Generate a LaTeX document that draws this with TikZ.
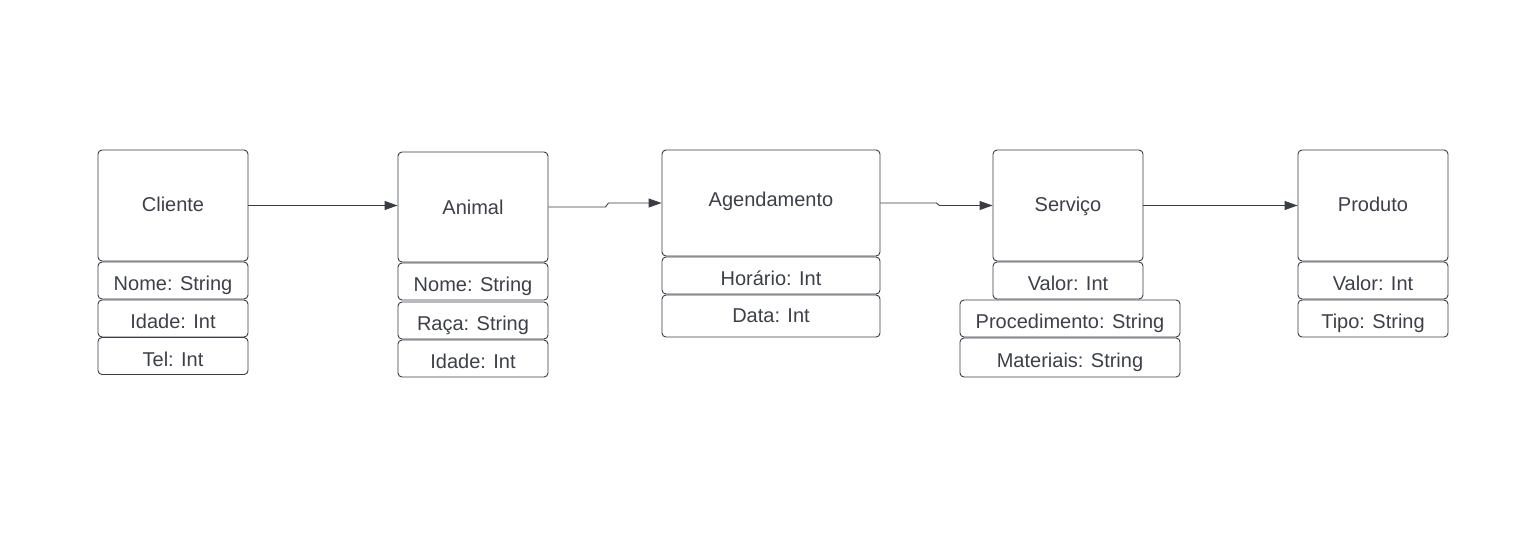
\documentclass[tikz,border=0pt]{standalone}
\usepackage{fontspec}
\setmainfont{Liberation Sans}
\usetikzlibrary{arrows.meta}

\definecolor{linecol}{HTML}{3A3D45}
\definecolor{textcol}{HTML}{3D4048}

\tikzset{
  entity/.style={draw=linecol, rounded corners=4pt, line width=0.9pt, text=textcol,
    minimum width=150pt, minimum height=111pt, inner sep=0pt,
    text height=11pt, text depth=0pt},
  attr/.style={draw=linecol, rounded corners=4pt, line width=0.9pt, text=textcol,
    minimum width=150pt, minimum height=37pt, inner sep=0pt,
    text height=20pt, text depth=0pt},
  link/.style={draw=linecol, line width=0.9pt, -{Triangle[length=13pt,width=9pt]}}
}

\begin{document}
\begin{tikzpicture}[x=1pt, y=-1pt, font=\fontsize{20}{24}\selectfont]
        \useasboundingbox[fill=white] (0,0) rectangle (1527,558);

        % Cliente
        \node[entity] (cliente) at (173,205.5) {Cliente};
        \node[attr] (clinome) at (173,280.5) {Nome: String};
        \node[attr] (cliidade) at (173,318.5) {Idade: Int};
        \node[attr] (clitel) at (173,356) {Tel: Int};

        % Animal
        \node[entity, minimum height=110pt] (animal) at (473,207) {\raisebox{-2pt}{Animal}};
        \node[attr] (aninome) at (473,281.5) {Nome: String};
        \node[attr] (aniraca) at (473,320.5) {Raça: String};
        \node[attr] (aniidade) at (473,358.5) {Idade: Int};

        % Agendamento
        \node[entity, minimum width=218pt, minimum height=106pt] (agendamento) at (771,203) {\raisebox{2pt}{Agendamento}};
        \node[attr, minimum width=218pt] (aghorario) at (771,275.5) {Horário: Int};
        \node[attr, minimum width=218pt, minimum height=42pt] (agdata) at (771,316) {\raisebox{4pt}{Data: Int}};

        % Servico
        \node[entity] (servico) at (1068,205.5) {Serviço};
        \node[attr] (servalor) at (1068,280.5) {Valor: Int};
        \node[attr, minimum width=220pt] (serproc) at (1070,318.5) {Procedimento: String};
        \node[attr, minimum width=220pt, minimum height=39pt] (sermat) at (1070,357.5) {Materiais: String};

        % Produto
        \node[entity] (produto) at (1373,205.5) {Produto};
        \node[attr] (provalor) at (1373,280.5) {Valor: Int};
        \node[attr] (protipo) at (1373,318.5) {Tipo: String};

        % ligacoes
        \draw[link] (cliente.east) -- (cliente.east -| animal.west);
        \draw[link] (animal.east) -- ++(57,0) -- ++(3,-4) -- (agendamento.west);
        \draw[link] (agendamento.east) -- ++(56,0) -- ++(3,2.5) -- (servico.west);
        \draw[link] (servico.east) -- (produto.west);
    \end{tikzpicture}
\end{document}
